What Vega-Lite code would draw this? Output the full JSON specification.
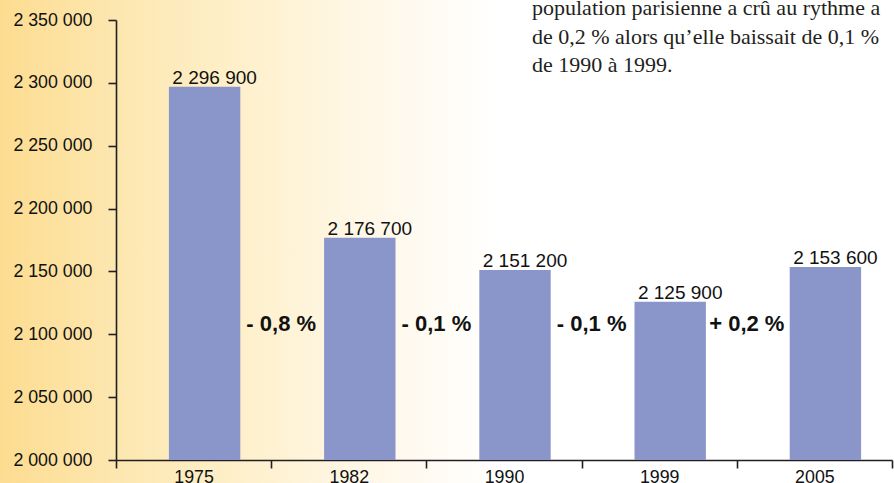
{
  "$schema": "https://vega.github.io/schema/vega-lite/v6.json",
  "width": 894,
  "height": 483,
  "autosize": {"type": "none"},
  "padding": 0,
  "background": "#ffffff",
  "title": {
    "text": ["population parisienne a crû au rythme a", "de 0,2 % alors qu’elle baissait de 0,1 %", "de 1990 à 1999."],
    "anchor": "start",
    "frame": "group",
    "orient": "none",
    "baseline": "alphabetic",
    "font": "Liberation Serif",
    "fontSize": 22,
    "fontWeight": "normal",
    "lineHeight": 28.5,
    "color": "#231F20",
    "dx": 532,
    "dy": 15,
    "offset": 0
  },
  "config": {
    "locale": {"number": {"decimal": ",", "thousands": " ", "grouping": [3], "currency": ["", " €"]}},
    "view": {
      "stroke": null,
      "fill": {
        "gradient": "linear",
        "x1": 0, "y1": 0, "x2": 1, "y2": 0,
        "stops": [
          {"offset": 0, "color": "#FCDC90"},
          {"offset": 0.13, "color": "#FDE7B0"},
          {"offset": 0.27, "color": "#FEF0CB"},
          {"offset": 0.4, "color": "#FFF7E6"},
          {"offset": 0.5, "color": "#FFFCF6"},
          {"offset": 0.56, "color": "#FFFFFF"},
          {"offset": 1, "color": "#FFFFFF"}
        ]
      }
    },
    "axis": {
      "domainColor": "#231F20",
      "tickColor": "#231F20",
      "domainWidth": 1.6,
      "tickWidth": 1.6,
      "tickSize": 8,
      "labelColor": "#111111",
      "labelFont": "Arial",
      "labelFontSize": 17.8,
      "grid": false,
      "title": null
    }
  },
  "data": {
    "values": [
      {"year": "1975", "population": 2296900},
      {"year": "1982", "population": 2176700},
      {"year": "1990", "population": 2151200},
      {"year": "1999", "population": 2125900},
      {"year": "2005", "population": 2153600}
    ]
  },
  "encoding": {
    "x": {
      "field": "year",
      "type": "nominal",
      "scale": {
        "domain": ["1975", "1982", "1990", "1999", "2005"],
        "range": [116, 892],
        "paddingInner": 0,
        "paddingOuter": 0
      },
      "axis": {
        "orient": "bottom",
        "offset": -23,
        "tickBand": "extent",
        "labelAngle": 0,
        "labelPadding": 0,
        "labelBaseline": "top"
      }
    }
  },
  "layer": [
    {
      "mark": {"type": "bar", "color": "#8A96C9", "width": {"band": 0.46}, "xOffset": 11},
      "encoding": {
        "y": {
          "field": "population",
          "type": "quantitative",
          "scale": {"domain": [2000000, 2350000], "range": [460, 20], "zero": false, "nice": false, "clamp": true},
          "axis": {
            "orient": "left",
            "offset": -116,
            "values": [2000000, 2050000, 2100000, 2150000, 2200000, 2250000, 2300000, 2350000],
            "format": ",d",
            "labelPadding": 16
          }
        },
        "y2": {"datum": 2000000}
      }
    },
    {
      "mark": {"type": "text", "font": "Arial", "fontSize": 19, "color": "#111111", "baseline": "alphabetic", "dy": -3, "xOffset": 21},
      "encoding": {
        "y": {"field": "population", "type": "quantitative"},
        "text": {"field": "population", "type": "quantitative", "format": ",d"}
      }
    },
    {
      "data": {
        "values": [
          {"year": "1982", "change": "- 0,8 %"},
          {"year": "1990", "change": "- 0,1 %"},
          {"year": "1999", "change": "- 0,1 %"},
          {"year": "2005", "change": "+ 0,2 %"}
        ]
      },
      "mark": {"type": "text", "font": "Arial", "fontSize": 22, "fontWeight": "bold", "color": "#111111", "baseline": "alphabetic", "xOffset": 10},
      "encoding": {
        "x": {"field": "year", "type": "nominal", "bandPosition": 0},
        "y": {"datum": 2102500, "type": "quantitative"},
        "text": {"field": "change"}
      }
    }
  ]
}
